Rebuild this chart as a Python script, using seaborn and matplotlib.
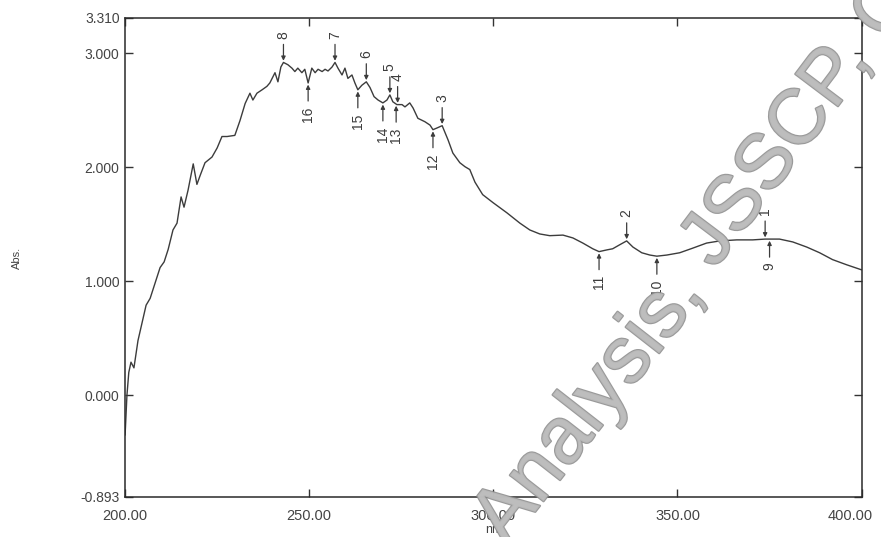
import numpy as np
import matplotlib
matplotlib.use("Agg")
import matplotlib.pyplot as plt
import matplotlib.patheffects as pe
import matplotlib.transforms as mtransforms
import seaborn as sns

# UV absorbance spectrum (nm vs Abs.)
wavelength = [200.0, 200.5, 201.0, 201.6, 202.4, 203.5, 205.7, 206.8, 208.4, 209.5,
              210.6, 211.7, 213.0, 214.1, 215.2, 216.0, 217.1, 218.5, 219.5, 220.4,
              221.7, 223.6, 225.0, 226.3, 227.7, 229.8, 231.2, 232.6, 233.9, 234.7,
              235.8, 237.2, 238.5, 239.3, 240.7, 241.5, 242.3, 243.0, 244.2, 245.3,
              246.1, 246.9, 248.0, 248.8, 249.7, 250.7, 251.6, 252.4, 253.5, 254.3,
              255.1, 256.2, 257.0, 257.8, 258.9, 259.7, 260.5, 261.6, 262.4, 263.2,
              264.3, 265.5, 266.5, 267.6, 268.7, 270.0, 271.1, 271.9, 272.7, 273.8,
              275.2, 276.0, 277.3, 278.2, 279.5, 281.4, 282.8, 283.6, 284.7, 286.1,
              287.7, 289.0, 290.9, 292.3, 293.6, 295.0, 297.1, 299.9, 303.7, 307.2,
              309.9, 312.6, 315.3, 318.9, 321.6, 324.3, 327.0, 328.7, 330.8, 332.4,
              334.3, 336.2, 337.9, 340.3, 342.5, 344.4, 347.1, 350.6, 354.1, 357.9,
              361.5, 366.1, 370.4, 373.8, 377.7, 381.3, 385.1, 388.6, 392.1, 395.9,
              400.0]
absorbance = [-0.35, 0.00, 0.20, 0.29, 0.24, 0.48, 0.79, 0.85, 1.01, 1.12,
              1.17, 1.28, 1.45, 1.51, 1.74, 1.65, 1.80, 2.03, 1.85, 1.93,
              2.04, 2.09, 2.17, 2.27, 2.27, 2.28, 2.41, 2.56, 2.65, 2.59,
              2.65, 2.68, 2.71, 2.74, 2.83, 2.75, 2.88, 2.92, 2.90, 2.87,
              2.84, 2.87, 2.83, 2.86, 2.74, 2.87, 2.83, 2.86, 2.84, 2.86,
              2.845, 2.88, 2.92, 2.87, 2.81, 2.87, 2.78, 2.81, 2.74, 2.68,
              2.72, 2.75, 2.70, 2.62, 2.59, 2.565, 2.59, 2.635, 2.575, 2.55,
              2.55, 2.53, 2.565, 2.52, 2.43, 2.40, 2.37, 2.33, 2.345, 2.365,
              2.24, 2.125, 2.04, 2.005, 1.98, 1.87, 1.76, 1.69, 1.60, 1.51,
              1.45, 1.415, 1.40, 1.405, 1.38, 1.335, 1.285, 1.26, 1.275, 1.285,
              1.32, 1.354, 1.30, 1.25, 1.23, 1.22, 1.23, 1.25, 1.29, 1.335,
              1.354, 1.363, 1.363, 1.37, 1.37, 1.345, 1.30, 1.25, 1.19, 1.145,
              1.10]

# picked peaks (arrow from above) and valleys (arrow from below)
peak_ids = ["1", "2", "3", "4", "5", "6", "7", "8"]
peak_nm = [373.8, 336.2, 286.1, 274.0, 271.9, 265.5, 257.0, 243.0]
valley_ids = ["9", "10", "11", "12", "13", "14", "15", "16"]
valley_nm = [375.0, 344.4, 328.7, 283.6, 273.6, 270.0, 263.2, 249.7]

x_ticks = [200, 250, 300, 350, 400]
y_ticks = [-0.893, 0.0, 1.0, 2.0, 3.0, 3.310]

sns.set_style("ticks")
plt.rcParams["font.family"] = ["Liberation Sans", "DejaVu Sans"]

fig = plt.figure(figsize=(8.81, 5.37), dpi=100)
ax = fig.add_axes([0.142, 0.0745, 0.836, 0.892])

ink = "#3c3c3c"
sns.lineplot(x=wavelength, y=absorbance, ax=ax, color=ink, linewidth=1.0,
             estimator=None, sort=False)

ax.set_xlim(200, 400)
ax.set_ylim(-0.893, 3.310)
ax.set_xticks(x_ticks)
ax.set_xticklabels([f"{v:.2f}" for v in x_ticks], fontsize=10.5, color="#444444")
ax.set_yticks(y_ticks)
ax.set_yticklabels([f"{v:.3f}" for v in y_ticks], fontsize=10, color="#444444")
ax.tick_params(direction="in", length=6, width=1.0, top=True, right=True,
               color="#333333")
ax.tick_params(axis="x", pad=9)
ax.tick_params(axis="y", pad=4)
for side in ["left", "right", "top", "bottom"]:
    ax.spines[side].set_color("#2a2a2a")
    ax.spines[side].set_linewidth(1.1)

# keep the last wavelength label inside the page
last = ax.get_xticklabels()[-1]
last.set_transform(last.get_transform() +
                   mtransforms.ScaledTranslation(-8 / 72, 0, fig.dpi_scale_trans))

ax.set_ylabel("Abs.", fontsize=8, color="#444444", labelpad=42)
fig.text(0.56, 0.002, "nm", fontsize=9, color="#444444", ha="center", va="bottom")

arrow_kw = dict(arrowstyle="-|>", color=ink, lw=0.9, mutation_scale=6,
                shrinkA=0, shrinkB=1.2)


def mark(nm, label, above):
    yv = float(np.interp(nm, wavelength, absorbance))
    sgn = 1 if above else -1
    ax.annotate("", xy=(nm, yv), xytext=(0, sgn * 13), textcoords="offset points",
                arrowprops=arrow_kw)
    ax.annotate(label, xy=(nm, yv), xytext=(0, sgn * 17), textcoords="offset points",
                rotation=90, ha="center", va="bottom" if above else "top",
                fontsize=10, color=ink)


for nm, lab in zip(peak_nm, peak_ids):
    mark(nm, lab, True)
for nm, lab in zip(valley_nm, valley_ids):
    mark(nm, lab, False)

# journal watermark, slightly arched across the plot
wm_style = dict(rotation_mode="anchor", ha="left", va="baseline",
                color="#bdbdbd", alpha=0.88, zorder=10,
                path_effects=[pe.withStroke(linewidth=1.6, foreground="#8c8c8c")])
fig.text(0.5755, -0.0205, "Analysis,", rotation=52, fontsize=58, **wm_style)
fig.text(0.811, 0.497, "JSSCP, C", rotation=53, fontsize=56, **wm_style)

fig.savefig("out.png", dpi=100)
